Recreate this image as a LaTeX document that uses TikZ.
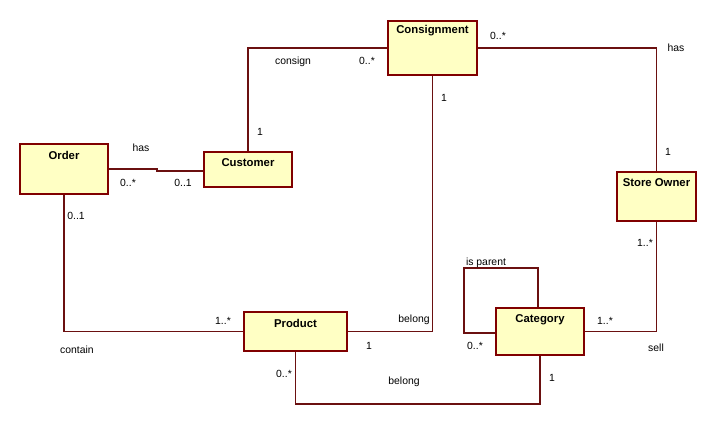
\documentclass[tikz,border=0pt]{standalone}
\usepackage{fontspec}
\setmainfont{Liberation Sans}
\definecolor{boxfill}{HTML}{FFFFC4}
\definecolor{boxline}{HTML}{800000}
\definecolor{wire}{HTML}{6B1010}
\begin{document}
\begin{tikzpicture}[x=0.75pt,y=-0.75pt,
  cls/.style={draw=boxline,fill=boxfill,line width=0.9pt,inner sep=0pt},
  ctitle/.style={font=\fontsize{8.5}{10}\selectfont\bfseries,inner sep=0pt,anchor=center},
  lbl/.style={font=\fontsize{7.8}{9}\selectfont,inner sep=0pt,anchor=center},
  wire/.style={draw=wire,line width=0.8pt}]
\useasboundingbox[fill=white] (0,0) rectangle (716,425);
% classes
\node[cls,minimum width=66pt,minimum height=37.5pt] (order) at (64,169) {};
\node[cls,minimum width=66pt,minimum height=26.25pt] (customer) at (248,169.5) {};
\node[cls,minimum width=66.75pt,minimum height=40.5pt] (consignment) at (432.5,48) {};
\node[cls,minimum width=59.25pt,minimum height=36.75pt] (storeowner) at (656.5,196.5) {};
\node[cls,minimum width=77.25pt,minimum height=29.25pt] (product) at (295.5,331.5) {};
\node[cls,minimum width=66pt,minimum height=35.25pt] (category) at (540,331.5) {};
% titles
\node[ctitle] (orderT) at (64,155) {Order};
\node[ctitle] (customerT) at (248,163) {Customer};
\node[ctitle] (consignmentT) at (432.5,31) {Consignment};
\node[ctitle] (storeownerT) at (656.5,183) {Store Owner};
\node[ctitle] (productT) at (295.5,323) {Product};
\node[ctitle] (categoryT) at (540,319.5) {Category};
% helper coordinates
\coordinate (ocj) at (157,171);
\coordinate (pcb) at (0,404);
\coordinate (loopA) at (538,268);
\coordinate (loopB) at (464,268);
\coordinate (loopC) at (464,333);
% connectors
\draw[wire] (order.east) -| (ocj) -- (ocj -| customer.west);
\draw[wire] (customer.north) |- (consignment.west);
\draw[wire] (consignment.east) -| (storeowner.north);
\draw[wire] (consignment.south) |- (product.east);
\draw[wire] (storeowner.south) |- (category.east);
\draw[wire] (order.south) |- (product.west);
\draw[wire] (product.south) -- (product.south |- pcb) -| (category.south);
\draw[wire] (loopA |- category.north) -- (loopA) -- (loopB) -- (loopC) -- (loopC -| category.west);
% labels
\node[lbl] (l1) at (141,148) {has};
\node[lbl] (l2) at (128,183) {0..*};
\node[lbl] (l3) at (183,183) {0..1};
\node[lbl] (l4) at (260,132) {1};
\node[lbl] (l5) at (76,216) {0..1};
\node[lbl] (l6) at (293,62) {consign};
\node[lbl] (l7) at (367,61) {0..*};
\node[lbl] (l8) at (498,36) {0..*};
\node[lbl] (l9) at (444,98) {1};
\node[lbl] (l10) at (676,48) {has};
\node[lbl] (l11) at (668,152) {1};
\node[lbl] (l12) at (645,243) {1..*};
\node[lbl] (l13) at (223,321) {1..*};
\node[lbl] (l14) at (414,320) {belong};
\node[lbl] (l15) at (369,346) {1};
\node[lbl] (l16) at (77,350) {contain};
\node[lbl] (l17) at (284,374) {0..*};
\node[lbl] (l18) at (404,382) {belong};
\node[lbl] (l19) at (486,263) {is parent};
\node[lbl] (l20) at (605,321) {1..*};
\node[lbl] (l21) at (475,346) {0..*};
\node[lbl] (l22) at (656,348) {sell};
\node[lbl] (l23) at (552,378) {1};
\end{tikzpicture}
\end{document}
